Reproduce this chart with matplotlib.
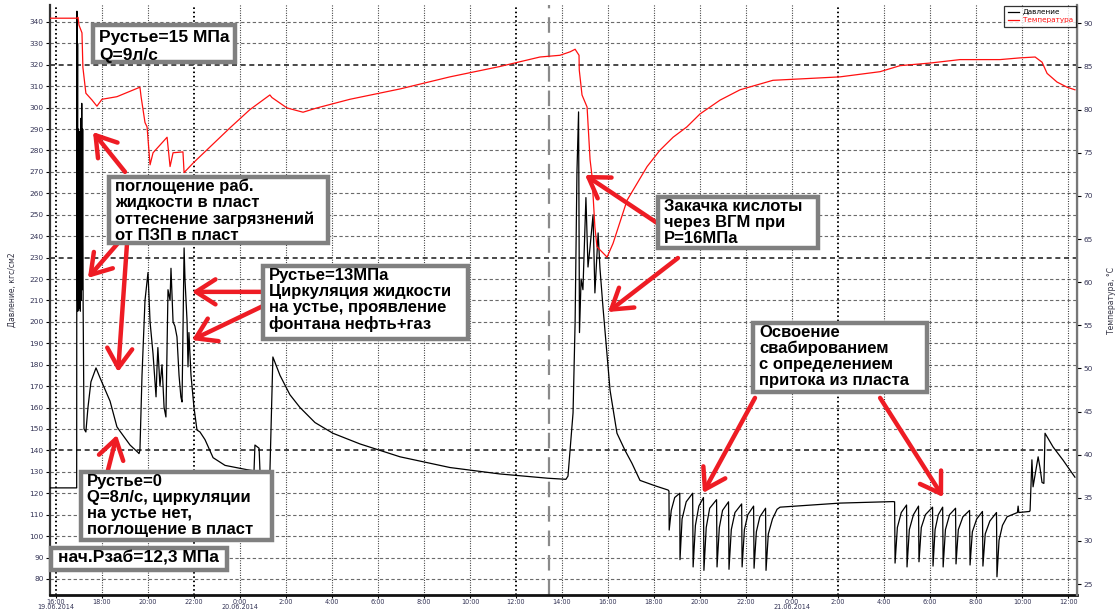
import matplotlib
matplotlib.use("Agg")
import matplotlib.pyplot as plt
from matplotlib.patches import Rectangle

# ---- data: time in hours from 16:00 19.06.2014 ----
pressure_h = [
    -0.26, 0.90, 0.91, 0.92, 0.94, 0.95, 0.97, 0.99, 1.01, 1.03, 1.04, 1.06, 1.08, 1.10,
    1.12, 1.14, 1.16, 1.18, 1.22, 1.30, 1.39, 1.52, 1.74, 1.91, 2.35, 2.65, 2.78, 3.22,
    3.57, 3.61, 3.65, 3.74, 3.87, 4.00, 4.09, 4.22, 4.35, 4.39, 4.43, 4.52, 4.61, 4.70,
    4.78, 4.87, 4.96, 5.00, 5.09, 5.17, 5.26, 5.35, 5.43, 5.48, 5.57, 5.61, 5.70, 5.74,
    5.78, 5.87, 6.00, 6.13, 6.26, 6.48, 6.83, 7.35, 8.30, 8.61, 8.65, 8.83, 8.87, 9.30,
    9.35, 9.43, 9.74, 10.17, 10.61, 11.26, 12.04, 13.22, 14.96, 17.13, 19.30, 21.39,
    22.17, 22.26, 22.43, 22.48, 22.57, 22.65, 22.72, 22.76, 22.83, 22.91, 23.04, 23.13,
    23.22, 23.35, 23.43, 23.57, 23.65, 23.78, 24.09, 24.39, 24.74, 25.04, 25.39, 26.04,
    26.61,
    26.65, 26.66, 26.75, 26.90, 27.12, 27.13, 27.22, 27.40, 27.68, 27.70, 27.80, 27.95,
    28.15, 28.17, 28.27, 28.42, 28.72, 28.74, 28.84, 28.98, 29.24, 29.26, 29.36, 29.52,
    29.81, 29.83, 29.93, 30.08, 30.33, 30.35, 30.45, 30.60, 30.85, 30.87, 30.97, 31.15,
    31.35, 31.48, 34.09, 36.39, 36.46,
    36.48, 36.58, 36.75, 36.98, 37.00, 37.10, 37.28, 37.50, 37.52, 37.62, 37.80, 38.11,
    38.13, 38.22, 38.36, 38.55, 38.57, 38.67, 38.85, 39.11, 39.13, 39.23, 39.43, 39.72,
    39.74, 39.84, 40.03, 40.28, 40.30, 40.40, 40.60, 40.89, 40.91, 41.00, 41.15, 41.35,
    41.80, 41.83, 41.86, 42.33, 42.35, 42.43, 42.48, 42.70, 42.78, 42.87, 42.95, 43.00,
    43.35, 43.78, 44.30,
]
pressure_val = [
    122.5, 122.5, 345, 210, 330, 205, 290, 206, 288, 208, 289, 205, 295, 210,
    302, 215, 290, 208, 150, 148.6, 160, 172, 178.5, 174, 163, 151, 149, 142.5,
    139, 138.5, 140, 175, 210, 223, 200, 185, 165, 178, 188, 170, 180, 160,
    155.6, 215, 210, 225, 200, 198, 193, 175, 165, 162.6, 234.5, 219.5, 200, 179,
    195, 175, 160, 149.5, 148.6, 145, 136.6, 133, 131, 130.5, 142.5, 141, 130, 129.5,
    150, 183.6, 175, 166, 160, 153, 148, 143, 137, 132, 129, 127,
    126.5, 128, 151, 157.5, 200, 270, 298, 195, 220, 215, 258, 225.6,
    235, 250, 213.5, 241.5, 225, 207, 168, 148, 140, 134, 126, 123.5,
    121.5,
    121.0, 102.8, 112, 118, 120.0, 89.0, 108, 116, 120.0, 85.6, 105, 114,
    118.0, 84.0, 104, 113, 117.0, 85.6, 104, 112, 116.0, 84.5, 103, 111,
    115.0, 85.6, 103, 110, 114.0, 85.0, 102, 109, 113.0, 84.0, 101, 108,
    112.5, 113.5, 115.4, 116.1, 116.0,
    87.4, 104, 111, 114.5, 85.6, 103, 110, 114.0, 88.0, 104, 110, 113.5,
    86.0, 103, 110, 113.5, 85.6, 103, 110, 113.0, 87.0, 103, 109, 112.0,
    86.5, 102, 108, 111.5, 86.0, 101, 107, 111.0, 81.0, 98, 105, 109.0,
    111, 114, 111, 111.5, 112, 135.6, 123, 137, 132, 125, 124.6, 148,
    141.6, 135.5, 127.5,
]

temp_h = [
    -0.26, 0.91, 0.96, 1.00, 1.13, 1.17, 1.30, 1.57, 1.78, 2.00, 2.65, 3.65, 3.70, 3.87,
    3.96, 4.09, 4.22, 4.83, 4.96, 5.09, 5.52, 5.57, 5.96, 7.57, 8.43, 9.30, 9.39, 10.04,
    10.74, 11.35, 12.78, 14.96, 17.13, 19.30, 21.04, 21.91, 22.35, 22.57, 22.74, 22.75,
    22.87, 23.09, 23.22, 23.30, 23.43, 23.52, 23.96, 24.22, 24.83, 25.70, 26.26, 26.83,
    27.43, 28.00, 28.87, 29.74, 31.17, 32.65, 34.09, 35.83, 36.70, 38.00, 39.30, 41.04,
    41.91, 42.57, 42.87, 43.09, 43.52, 43.96, 44.30,
]
temp_val = [
    90.6, 90.6, 90.7, 89.8, 88.9, 84.9, 81.9, 81.1, 80.4, 81.2, 81.5, 82.6, 81.5, 78.5,
    78.0, 73.6, 75.0, 76.8, 73.4, 75.0, 75.1, 72.7, 73.8, 77.9, 80.0, 81.7, 81.4, 80.2,
    79.7, 80.2, 81.2, 82.4, 83.8, 85.0, 86.1, 86.3, 86.7, 87.0, 86.3, 84.6,
    81.7, 80.3, 74.2, 72.4, 66.4, 64.1, 62.9, 64.5, 69.5, 73.4, 75.3, 76.8,
    78.0, 79.5, 81.1, 82.3, 83.4, 83.6, 83.8, 84.4, 85.1, 85.4, 85.8, 85.8,
    86.0, 86.1, 85.5, 84.2, 83.2, 82.6, 82.3,
]

x_ticks = list(range(0, 45, 2))
x_tick_labels = [
    "16:00\n19.06.2014", "18:00", "20:00", "22:00", "0:00\n20.06.2014", "2:00", "4:00",
    "6:00", "8:00", "10:00", "12:00", "14:00", "16:00", "18:00", "20:00", "22:00",
    "0:00\n21.06.2014", "2:00", "4:00", "6:00", "8:00", "10:00", "12:00",
]
p_ticks = list(range(80, 341, 10))
t_ticks = list(range(25, 91, 5))
marker_h = 21.43  # vertical cursor line, 13:26 20.06

W, H = 1120, 614
fig = plt.figure(figsize=(W / 100, H / 100), dpi=100)
fig.patch.set_facecolor("white")


def fx(x):
    return x / W


def fy(y):
    return 1 - y / H


ax = fig.add_axes([fx(50), fy(595), (1077 - 50) / W, (595 - 5) / H])
ax.set_xlim(-0.26, 44.39)
ax.set_ylim(72.5, 347.9)
ax2 = ax.twinx()
ax2.set_ylim(23.73, 92.13)

# grid
for v in p_ticks:
    major = v in (320, 230, 140)
    ax.axhline(v, color="#2a2a2a" if major else "#6a6a6a", lw=1.2 if major else 0.8,
               dashes=(3, 2.2), zorder=1)
for t in x_ticks:
    major = t in (0, 6, 20, 34)
    ax.axvline(t, color="#000000" if major else "#222222", lw=1.4 if major else 0.8,
               dashes=(0.8, 1.4), zorder=1)
ax.axvline(marker_h, color="#8a8a8a", lw=1.6, dashes=(7, 4), zorder=1)

# series
l1, = ax.plot(pressure_h, pressure_val, color="black", lw=0.9, zorder=3, label="Давление")
l2, = ax2.plot(temp_h, temp_val, color="#ff1010", lw=0.9, zorder=3, label="Температура")

# axes style
for a in (ax, ax2):
    a.spines["top"].set_visible(False)
ax.spines["left"].set_color("#333333")
ax.spines["left"].set_linewidth(1.6)
ax.spines["bottom"].set_color("#111111")
ax.spines["bottom"].set_linewidth(2)
ax2.spines["right"].set_color("#777777")
ax2.spines["right"].set_linewidth(1.6)
ax2.spines["left"].set_visible(False)
ax2.spines["bottom"].set_visible(False)

tick_col = "#333355"
ax.set_yticks(p_ticks)
ax.set_yticklabels([str(v) for v in p_ticks])
ax.tick_params(axis="y", length=3, width=0.8, labelsize=5.3, pad=1.5, labelcolor=tick_col)
ax.set_xticks(x_ticks)
ax.set_xticklabels(x_tick_labels, linespacing=0.85)
ax.tick_params(axis="x", length=2, width=0.8, labelsize=4.7, pad=0.8, labelcolor=tick_col)
ax2.set_yticks(t_ticks)
ax2.set_yticklabels([str(v) for v in t_ticks])
ax2.tick_params(axis="y", length=3, width=0.8, labelsize=5.3, pad=1.5, labelcolor=tick_col)

fig.text(fx(12), fy(290), "Давление, кгс/см2", rotation=90, fontsize=5.5,
         color="#333344", ha="center", va="center")
fig.text(fx(1112), fy(300), "Температура, °С", rotation=90, fontsize=5.5,
         color="#333344", ha="center", va="center")

leg = ax2.legend(handles=[l1, l2], loc="upper right", fontsize=5.2, frameon=True,
                 fancybox=False, edgecolor="black", borderaxespad=0.1,
                 handlelength=1.6, handletextpad=0.5, borderpad=0.45, labelspacing=0.3)
leg.get_frame().set_linewidth(0.9)
leg.get_texts()[1].set_color("#ff1010")

# arrows (tail -> head, in data units)
red = "#ee1c24"
arrows = [
    ((3.00, 270.0), (1.61, 288.6)),
    ((2.70, 236.8), (1.39, 220.5)),
    ((3.09, 236.8), (2.70, 176.6)),
    ((2.26, 130.8), (2.65, 147.2)),
    ((9.00, 214.0), (5.91, 214.0)),
    ((9.00, 207.4), (5.91, 191.5)),
    ((26.13, 246.2), (23.00, 268.6)),
    ((27.04, 229.8), (24.00, 204.6)),
    ((30.39, 164.5), (28.13, 120.1)),
    ((35.83, 164.5), (38.57, 118.2)),
]
for tail, head in arrows:
    ax2.annotate("", xy=head, xytext=tail, xycoords=ax.transData, textcoords=ax.transData,
                 arrowprops=dict(arrowstyle="->,head_length=0.7,head_width=0.45",
                                 color=red, lw=3.2, mutation_scale=20,
                                 shrinkA=0, shrinkB=0), zorder=6)

# text boxes: pixel extents, text, font size, line spacing, text offset
boxes = [
    ((93, 25, 235, 62), "Рустье=15 МПа\nQ=9л/с", 12.5, 1.25, (6, 5)),
    ((109, 177, 328, 243), "поглощение раб.\nжидкости в пласт\nоттеснение загрязнений\nот ПЗП в пласт", 12, 1.08, (6, 2)),
    ((263, 266, 468, 339), "Рустье=13МПа\nЦиркуляция жидкости\nна устье, проявление\nфонтана нефть+газ", 12, 1.08, (6, 2)),
    ((81, 472, 272, 540), "Рустье=0\nQ=8л/с, циркуляции\nна устье нет,\nпоглощение в пласт", 12, 1.08, (6, 2)),
    ((51, 548, 227, 570), "нач.Рзаб=12,3 МПа", 12.5, 1.0, (7, 2)),
    ((658, 197, 818, 248), "Закачка кислоты\nчерез ВГМ при\nP=16МПа", 12, 1.08, (6, 2)),
    ((753, 323, 927, 392), "Освоение\nсвабированием\nс определением\nпритока из пласта", 12, 1.08, (6, 2)),
]
for (x0, y0, x1, y1), txt, fs, ls, (dx, dy) in boxes:
    fig.add_artist(Rectangle((fx(x0), fy(y1)), (x1 - x0) / W, (y1 - y0) / H,
                             transform=fig.transFigure, facecolor="white",
                             edgecolor="#808080", lw=3.2, zorder=8))
    fig.text(fx(x0 + dx), fy(y0 + dy), txt, ha="left", va="top", fontsize=fs,
             fontweight="bold", family="Liberation Sans", linespacing=ls, zorder=9)

fig.savefig("out.png", dpi=100)
